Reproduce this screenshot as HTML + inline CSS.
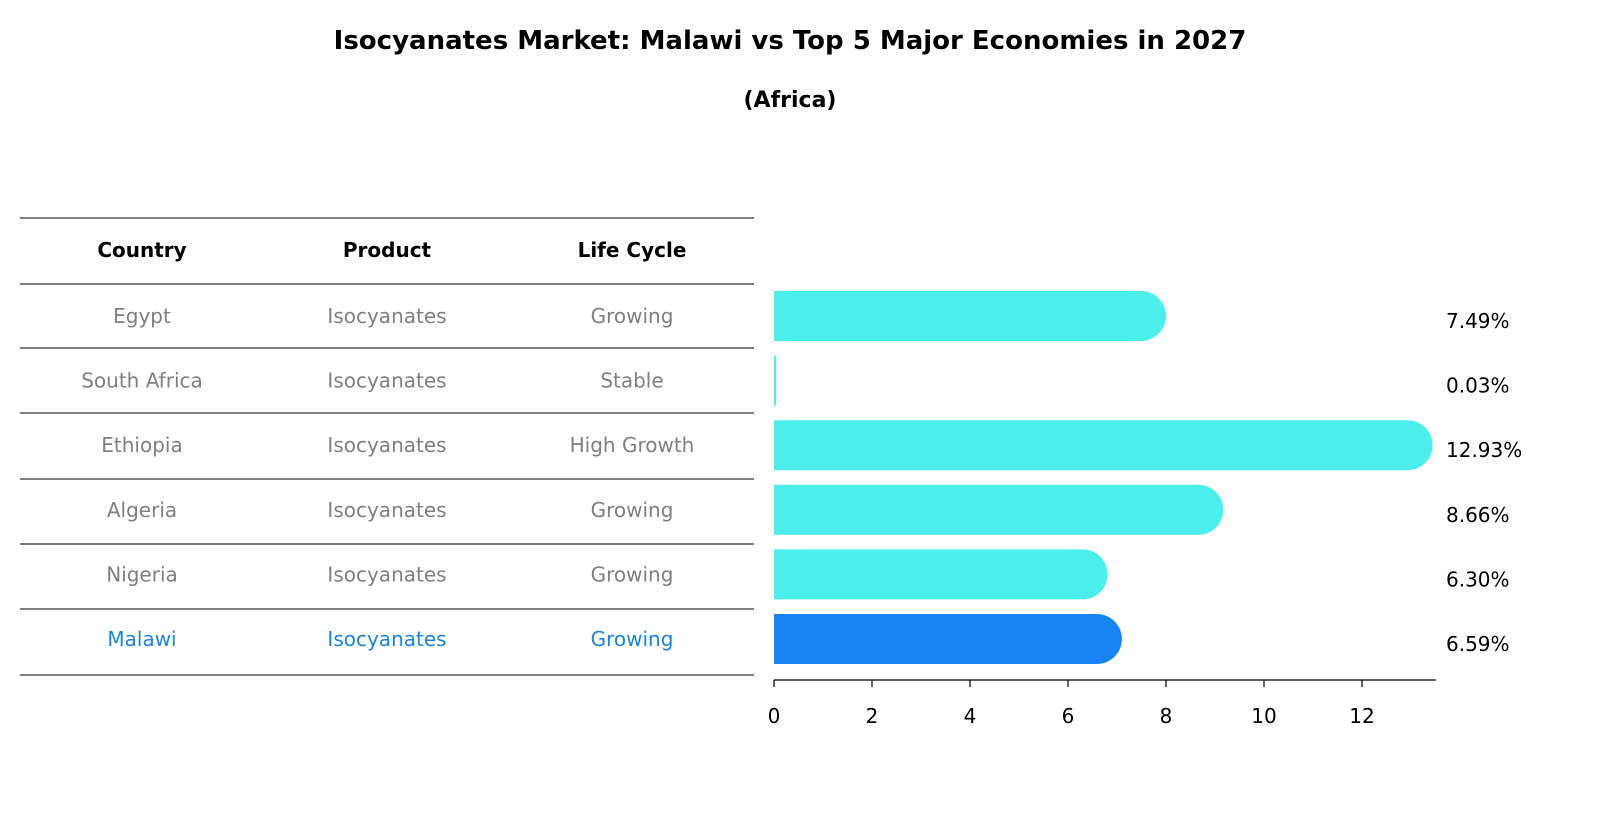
<!DOCTYPE html>
<html><head><meta charset="utf-8"><style>
html,body{margin:0;padding:0;background:#fff;width:1604px;height:823px;overflow:hidden;font-family:"Liberation Sans","DejaVu Sans",sans-serif}
svg{display:block}
</style></head><body>
<svg width="1604" height="823" viewBox="0 0 1604 823" xmlns="http://www.w3.org/2000/svg" font-family="DejaVu Sans, Liberation Sans, sans-serif">
<text x="790" y="49" text-anchor="middle" font-size="26" font-weight="bold">Isocyanates Market: Malawi vs Top 5 Major Economies in 2027</text>
<text x="790" y="107" text-anchor="middle" font-size="22" font-weight="bold">(Africa)</text>
<g id="table"></g>
<g id="bars"></g>
<g id="axis"></g>
</svg>
<script>
const countries=["Egypt","South Africa","Ethiopia","Algeria","Nigeria","Malawi"];
const products=["Isocyanates","Isocyanates","Isocyanates","Isocyanates","Isocyanates","Isocyanates"];
const lifeCycles=["Growing","Stable","High Growth","Growing","Growing","Growing"];
const values=[7.49,0.03,12.93,8.66,6.30,6.59];
const ticks=[0,2,4,6,8,10,12];
const NS="http://www.w3.org/2000/svg";
function mk(t,a,p,txt){const e=document.createElementNS(NS,t);for(const k in a)e.setAttribute(k,a[k]);if(txt!=null)e.textContent=txt;p.appendChild(e);return e;}
const x0=774,ppu=49,rowY=i=>316+i*64.6,bh=50;
const xs=v=>x0+v*ppu;
const tbl=document.getElementById('table'),bars=document.getElementById('bars'),ax=document.getElementById('axis');
const cols=[142,387,632];
const lines=[218,284,348,413,479,544,609,675];
lines.forEach(y=>{const l=mk('line',{x1:20,x2:754,y1:y,y2:y,stroke:'#000','stroke-width':1},tbl);

});
["Country","Product","Life Cycle"].forEach((h,j)=>{const t=mk('text',{x:cols[j],y:257,'text-anchor':'middle','font-size':20,'font-weight':'bold'},tbl,h);

});
countries.forEach((c,i)=>{
 const col=i===countries.length-1?'#1a84e6':'#808080';
 [c,products[i],lifeCycles[i]].forEach((v,j)=>{const t=mk('text',{x:cols[j],y:rowY(i)+7,'text-anchor':'middle','font-size':20,fill:col},tbl,v);
 
 });
 const w=xs(values[i])-x0, r=bh/2;
 const fill=i===countries.length-1?'#1985f5':'#4beeea';
 let b;
 if(w<2){b=mk('rect',{x:x0,y:rowY(i)-r,width:Math.max(w,2),height:bh,fill:fill},bars);}
 else{const yt=rowY(i)-r,xe=x0+w;
 b=mk('path',{d:`M${x0},${yt}H${xe}A${r},${r} 0 0 1 ${xe},${yt+bh}H${x0}Z`,fill:fill},bars);}
 
 
 const lb=mk('text',{x:1446,y:rowY(i)+12,'font-size':20},bars,values[i].toFixed(2)+'%');
 
 
});
const al=mk('line',{x1:x0,x2:1436,y1:680,y2:680,stroke:'#000','stroke-width':1.2},ax);


ticks.forEach(t=>{const l=mk('line',{x1:xs(t),x2:xs(t),y1:680,y2:687,stroke:'#000','stroke-width':1.2},ax);
 
 
 const tx=mk('text',{x:xs(t),y:723,'text-anchor':'middle','font-size':20},ax,String(t));
 
 });
</script>
</body></html>
